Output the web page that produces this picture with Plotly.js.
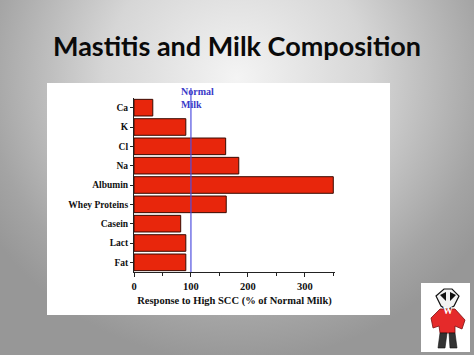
<!DOCTYPE html>
<html>
<head>
<meta charset="utf-8">
<script src="https://cdn.plot.ly/plotly-3.0.1.min.js"></script>
<style>
html,body{margin:0;padding:0;width:474px;height:355px;overflow:hidden;}
body{background:radial-gradient(ellipse 62% 80% at 50% 22%, #f4f4f4 0%, #d6d6d6 45%, #a4a4a4 85%, #979797 100%);}
#chart{width:474px;height:355px;}
</style>
</head>
<body>
<div id="chart"></div>
<script>
var categories = ["Ca", "K", "Cl", "Na", "Albumin", "Whey Proteins", "Casein", "Lact", "Fat"];
var responses = [33, 91, 161, 184, 350, 162, 82, 91, 91];
var normalLevel = 100;
var tickVals = [0, 100, 200, 300];
var tickText = ["0", "100", "200", "300"];

// plot-area pixel geometry helper (for decorative shapes only)
var L = 134, R = 335, T = 98, B = 272;
function px(x){ return (x - L) / (R - L); }
function py(y){ return (B - y) / (B - T); }

var shapes = [
  {type:'rect', xref:'paper', yref:'paper', x0:px(47), x1:px(390), y0:py(315), y1:py(83),
   fillcolor:'#ffffff', line:{width:0}, layer:'below'},
  {type:'line', xref:'x', yref:'paper', x0:normalLevel, x1:normalLevel, y0:0, y1:py(88),
   line:{color:'#5050e0', width:1.2}, layer:'above'},
  {type:'rect', xref:'paper', yref:'paper', x0:px(421), x1:px(470), y0:py(352), y1:py(283),
   fillcolor:'#ffffff', line:{width:0}},
  {type:'path', xref:'paper', yref:'paper',
   path:'M '+px(436)+' '+py(296)+' L '+px(444)+' '+py(289)+' L '+px(452)+' '+py(289)+' L '+px(459)+' '+py(296)+' L '+px(454)+' '+py(306)+' L '+px(447)+' '+py(310)+' L '+px(441)+' '+py(306)+' Z',
   fillcolor:'#f2f2f2', line:{color:'#111', width:1.2}},
  {type:'path', xref:'paper', yref:'paper',
   path:'M '+px(440)+' '+py(295)+' L '+px(446)+' '+py(292)+' L '+px(446)+' '+py(301)+' Z M '+px(456)+' '+py(295)+' L '+px(450)+' '+py(292)+' L '+px(450)+' '+py(301)+' Z',
   fillcolor:'#111', line:{width:0}},
  {type:'path', xref:'paper', yref:'paper',
   path:'M '+px(431)+' '+py(318)+' L '+px(440)+' '+py(309)+' L '+px(455)+' '+py(309)+' L '+px(465)+' '+py(320)+' L '+px(462)+' '+py(329)+' L '+px(455)+' '+py(326)+' L '+px(455)+' '+py(333)+' L '+px(440)+' '+py(333)+' L '+px(439)+' '+py(326)+' L '+px(433)+' '+py(328)+' Z',
   fillcolor:'#e52a2a', line:{color:'#7a1010', width:0.8}},
  {type:'path', xref:'paper', yref:'paper',
   path:'M '+px(440)+' '+py(333)+' L '+px(447)+' '+py(333)+' L '+px(445)+' '+py(348)+' L '+px(438)+' '+py(348)+' Z M '+px(449)+' '+py(333)+' L '+px(455)+' '+py(333)+' L '+px(457)+' '+py(348)+' L '+px(450)+' '+py(348)+' Z',
   fillcolor:'#333', line:{color:'#111', width:0.6}}
];

var data = [{
  type:'bar', orientation:'h',
  y: categories, x: responses,
  marker:{color:'#e8260c', line:{color:'#3a0a00', width:1}},
  width:0.86, hoverinfo:'x+y'
}];

var serif = '"Liberation Serif", "DejaVu Serif", serif';

var layout = {
  width:474, height:355,
  paper_bgcolor:'rgba(0,0,0,0)', plot_bgcolor:'rgba(0,0,0,0)',
  margin:{l:L, r:474-R, t:T, b:355-B, pad:0},
  showlegend:false,
  title:{text:'<b>Mastitis and Milk Composition</b>', x:0.5, xref:'container', y:0.87, yref:'container', yanchor:'middle',
         font:{family:'Lato, "Open Sans", sans-serif', size:27, color:'#0a0a0a'}},
  xaxis:{range:[0, 353], tickvals:tickVals, ticktext:tickText, ticks:'outside', ticklen:4, tickwidth:1, tickcolor:'#222',
         minor:{dtick:50, ticks:'outside', ticklen:3, tickcolor:'#222', showgrid:false},
         showline:true, linecolor:'#222', linewidth:1, showgrid:false, zeroline:false,
         tickfont:{family:serif, size:10.5, color:'#111', weight:'bold'},
         title:{text:'<b>Response to High SCC (% of Normal Milk)</b>', standoff:6,
                font:{family:serif, size:10.5, color:'#111'}}},
  yaxis:{autorange:'reversed', type:'category', ticks:'outside', ticklen:3, tickcolor:'#222',
         showline:true, linecolor:'#222', linewidth:1, showgrid:false, zeroline:false,
         tickfont:{family:serif, size:9.5, color:'#111', weight:'bold'}},
  shapes: shapes,
  annotations:[
    {xref:'x', yref:'paper', x:normalLevel, y:py(84), xanchor:'center', yanchor:'top', align:'left',
     text:'<b>Normal<br>Milk</b>', showarrow:false, xshift:7,
     font:{family:serif, size:10, color:'#3a3ac8'}},
    {xref:'paper', yref:'paper', x:px(455), y:py(318), text:'<b>W</b>', showarrow:false,
     font:{family:serif, size:10, color:'#ffffff'}}
  ]
};

Plotly.newPlot('chart', data, layout, {displayModeBar:false, staticPlot:true});
</script>
</body>
</html>
